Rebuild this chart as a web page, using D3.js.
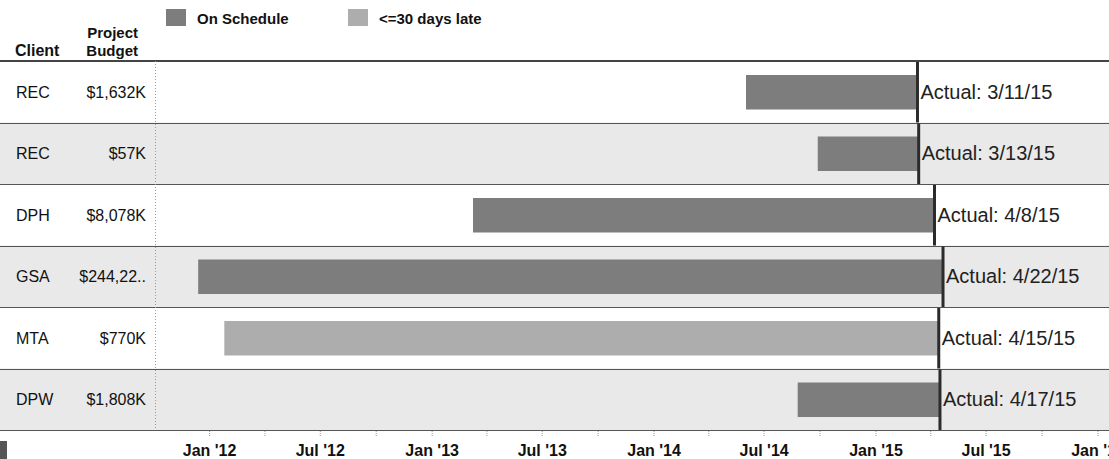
<!DOCTYPE html>
<meta charset="utf-8">
<html>
  <head>
    <style>
      body { margin: 0; background: #fff; }
      text { font-family: "Liberation Sans", Arial, sans-serif; fill: #111; }
      text.hdr { font-size: 15px; font-weight: bold; }
      text.lbl { font-size: 16px; }
      text.actual { font-size: 20px; fill: #222; }
      .x-axis text { font-size: 16px; font-weight: bold; fill: #111; }
      .x-axis path { display: none; }
      .x-axis line { stroke: #999; }
    </style>
    <script src="https://cdnjs.cloudflare.com/ajax/libs/d3/7.8.5/d3.min.js"></script>
  </head>
  <body>
    <div id="chart"></div>
    <script>
      // data
      var clients = ["REC", "REC", "DPH", "GSA", "MTA", "DPW"];
      var budgets = ["$1,632K", "$57K", "$8,078K", "$244,22..", "$770K", "$1,808K"];
      var starts  = ["2014-06-02", "2014-09-28", "2013-03-10", "2011-12-14", "2012-01-26", "2014-08-26"];
      var actuals = ["2015-03-11", "2015-03-13", "2015-04-08", "2015-04-22", "2015-04-15", "2015-04-17"];
      var actualLabels = ["3/11/15", "3/13/15", "4/8/15", "4/22/15", "4/15/15", "4/17/15"];
      var barStatus = ["On Schedule", "On Schedule", "On Schedule", "On Schedule", "<=30 days late", "On Schedule"];
      var legendItems = ["On Schedule", "<=30 days late"];

      var width = 1109, height = 459,
          plotLeft = 155, plotRight = 1109,
          plotTop = 61, plotBottom = 430;

      var parse = d3.timeParse("%Y-%m-%d");
      var color = d3.scaleOrdinal().domain(legendItems).range(["#7d7d7d", "#adadad"]);

      var svg = d3.select("#chart").append("svg")
          .attr("width", width)
          .attr("height", height);

      var x = d3.scaleTime()
          .domain([parse("2011-10-04"), parse("2016-01-20")])
          .range([plotLeft, plotRight]);

      var y = d3.scaleBand()
          .domain(d3.range(clients.length))
          .range([plotTop, plotBottom]);

      // row bands
      svg.selectAll(".band")
          .data(clients)
          .enter().append("rect")
          .attr("x", 0)
          .attr("y", function(d, i) { return y(i); })
          .attr("width", width)
          .attr("height", y.bandwidth())
          .style("fill", function(d, i) { return i % 2 ? "#e9e9e9" : "#fff"; });

      // row separators
      svg.selectAll(".sep")
          .data(d3.range(1, clients.length + 1))
          .enter().append("line")
          .attr("x1", 0).attr("x2", width)
          .attr("y1", function(d) { return Math.round(y.step() * d + plotTop) + 0.5; })
          .attr("y2", function(d) { return Math.round(y.step() * d + plotTop) + 0.5; })
          .style("stroke", "#555")
          .style("stroke-width", 1);

      svg.append("line")
          .attr("x1", 0).attr("x2", width)
          .attr("y1", plotTop).attr("y2", plotTop)
          .style("stroke", "#444")
          .style("stroke-width", 2);

      // dotted divider between labels and plot
      svg.append("line")
          .attr("x1", plotLeft + 0.5).attr("x2", plotLeft + 0.5)
          .attr("y1", plotTop).attr("y2", plotBottom)
          .style("stroke", "#999")
          .style("stroke-dasharray", "1,2");

      // bars
      var barPad = 14;
      svg.selectAll(".bar")
          .data(clients)
          .enter().append("rect")
          .attr("x", function(d, i) { return x(parse(starts[i])); })
          .attr("y", function(d, i) { return y(i) + barPad; })
          .attr("width", function(d, i) { return x(parse(actuals[i])) - x(parse(starts[i])); })
          .attr("height", y.bandwidth() - barPad * 2 + 1)
          .style("fill", function(d, i) { return color(barStatus[i]); });

      // actual date markers
      svg.selectAll(".actual-line")
          .data(clients)
          .enter().append("line")
          .attr("x1", function(d, i) { return x(parse(actuals[i])); })
          .attr("x2", function(d, i) { return x(parse(actuals[i])); })
          .attr("y1", function(d, i) { return y(i) + 1; })
          .attr("y2", function(d, i) { return y(i) + y.bandwidth(); })
          .style("stroke", "#2b2b2b")
          .style("stroke-width", 3);

      svg.selectAll(".actual")
          .data(clients)
          .enter().append("text")
          .attr("class", "actual")
          .attr("x", function(d, i) { return x(parse(actuals[i])) + 3; })
          .attr("y", function(d, i) { return y(i) + y.bandwidth() / 2 + 7; })
          .text(function(d, i) { return "Actual: " + actualLabels[i]; });

      // row labels
      svg.selectAll(".client")
          .data(clients)
          .enter().append("text")
          .attr("class", "lbl")
          .attr("x", 16)
          .attr("y", function(d, i) { return y(i) + y.bandwidth() / 2 + 6; })
          .text(function(d) { return d; });

      svg.selectAll(".budget")
          .data(budgets)
          .enter().append("text")
          .attr("class", "lbl")
          .attr("x", 146)
          .attr("y", function(d, i) { return y(i) + y.bandwidth() / 2 + 6; })
          .style("text-anchor", "end")
          .text(function(d) { return d; });

      // header
      svg.append("text").attr("class", "hdr").attr("x", 15).attr("y", 56).style("font-size", "16px").text("Client");
      svg.append("text").attr("class", "hdr").attr("x", 138).attr("y", 38).style("text-anchor", "end").text("Project");
      svg.append("text").attr("class", "hdr").attr("x", 138).attr("y", 56).style("text-anchor", "end").text("Budget");

      // legend
      var legendX = [166, 348];
      var legend = svg.selectAll(".legend")
          .data(legendItems)
          .enter().append("g")
          .attr("class", "legend")
          .attr("transform", function(d, i) { return "translate(" + legendX[i] + ",9)"; });

      legend.append("rect")
          .attr("width", 20)
          .attr("height", 17)
          .style("fill", function(d) { return color(d); });

      legend.append("text")
          .attr("class", "hdr")
          .attr("x", 31)
          .attr("y", 15)
          .text(function(d) { return d; });

      // quarter ticks + Jan/Jul labels
      var axis = d3.axisBottom(x)
          .ticks(d3.timeMonth.every(3))
          .tickSize(5)
          .tickFormat(function(d) {
            var m = d.getMonth();
            return (m === 0 || m === 6) ? d3.timeFormat("%b '%y")(d) : "";
          });

      var gx = svg.append("g")
          .attr("class", "x-axis")
          .attr("transform", "translate(0," + (plotBottom + 1) + ")")
          .call(axis);
      gx.selectAll("line").style("stroke-dasharray", "1,1");
      gx.selectAll("text").attr("dy", "0").attr("y", 25);

      // little dark mark at bottom left
      svg.append("rect")
          .attr("x", 0).attr("y", 441)
          .attr("width", 7).attr("height", 18)
          .style("fill", "#555");
    </script>
  </body>
</html>
